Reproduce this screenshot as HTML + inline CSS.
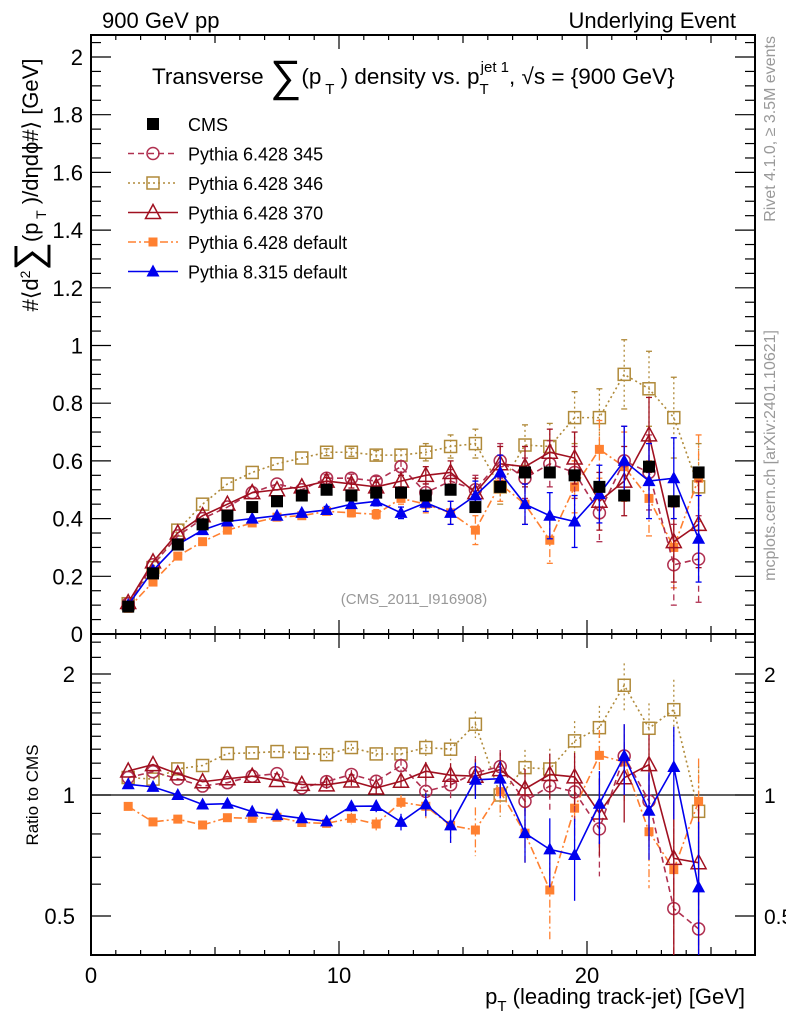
<!DOCTYPE html>
<html><head><meta charset="utf-8"><style>
body{margin:0;background:#fff;width:786px;height:1024px;overflow:hidden}
svg{font-family:"Liberation Sans",sans-serif}
</style></head><body>
<svg id="c" width="786" height="1024"></svg>
<script>
const xs=[1.5,2.5,3.5,4.5,5.5,6.5,7.5,8.5,9.5,10.5,11.5,12.5,13.5,14.5,15.5,16.5,17.5,18.5,19.5,20.5,21.5,22.5,23.5,24.5];
const cms=[0.095,0.21,0.31,0.38,0.41,0.44,0.46,0.48,0.50,0.48,0.49,0.49,0.48,0.50,0.44,0.51,0.56,0.56,0.55,0.51,0.48,0.58,0.46,0.56];
const cmsErr=[0.005,0.005,0.006,0.006,0.007,0.007,0.008,0.008,0.009,0.01,0.01,0.011,0.012,0.013,0.014,0.015,0.016,0.017,0.018,0.019,0.02,0.02,0.02,0.02];
const p345=[0.105,0.24,0.34,0.40,0.44,0.49,0.52,0.50,0.54,0.54,0.53,0.58,0.49,0.53,0.50,0.60,0.54,0.59,0.56,0.42,0.60,0.56,0.24,0.26];
const p346=[0.105,0.23,0.36,0.45,0.52,0.56,0.59,0.61,0.63,0.63,0.62,0.62,0.63,0.65,0.66,0.51,0.655,0.65,0.75,0.75,0.90,0.85,0.75,0.51];
const p370=[0.109,0.25,0.35,0.41,0.45,0.49,0.50,0.51,0.53,0.52,0.51,0.53,0.55,0.56,0.49,0.59,0.58,0.63,0.61,0.46,0.53,0.69,0.32,0.38];
const pdef=[0.089,0.18,0.27,0.32,0.36,0.385,0.405,0.41,0.425,0.42,0.415,0.47,0.45,0.42,0.36,0.52,0.45,0.325,0.51,0.64,0.58,0.47,0.30,0.54];
const p8=[0.101,0.22,0.31,0.36,0.39,0.40,0.41,0.42,0.43,0.45,0.46,0.42,0.455,0.42,0.48,0.56,0.45,0.41,0.39,0.485,0.60,0.53,0.54,0.33];
const mcErr=[0.003,0.004,0.005,0.006,0.007,0.008,0.009,0.01,0.012,0.014,0.016,0.02,0.03,0.04,0.05,0.06,0.07,0.08,0.09,0.1,0.12,0.13,0.14,0.15];
const yTicks=[0,0.2,0.4,0.6,0.8,1,1.2,1.4,1.6,1.8,2];
const xTicks=[0,10,20];
const rTicks=[0.5,1,2];

const S=document.getElementById('c');const NS='http://www.w3.org/2000/svg';
function el(t,a,p){const e=document.createElementNS(NS,t);for(const k in a)e.setAttribute(k,a[k]);(p||S).appendChild(e);return e;}
const X0=91,X1=755,MT=35,MB=634,RB=955;
const xv=v=>X0+v*24.8;
const ym=v=>634-v*288.5;
const yr=v=>795-Math.log2(v)*121;
const clipR=Math.pow(2,(795-RB)/121);

let f=el('rect',{x:X0,y:MT,width:X1-X0,height:MB-MT,fill:'none',stroke:'#000','stroke-width':2});

f=el('rect',{x:X0,y:MB,width:X1-X0,height:RB-MB,fill:'none',stroke:'#000','stroke-width':2});

for(let v=0;v<=2.06;v+=0.05){const y=ym(v);if(y<MT)break;const maj=Math.abs(v/0.2-Math.round(v/0.2))<1e-6;const L=maj?20:10;
el('line',{x1:X0,x2:X0+L,y1:y,y2:y,stroke:'#000','stroke-width':1.2});el('line',{x1:X1,x2:X1-L,y1:y,y2:y,stroke:'#000','stroke-width':1.2});}
yTicks.forEach(v=>{const t=el('text',{x:X0-8,y:ym(v)+8,'text-anchor':'end','font-size':22});t.textContent=String(v);
});
for(let v=0;v<=26;v++){const maj=v%10==0,mid=v%5==0;const L2=maj?14:(mid?8:5);
el('line',{x1:xv(v),x2:xv(v),y1:MB,y2:MB-L2,stroke:'#000','stroke-width':1.2});el('line',{x1:xv(v),x2:xv(v),y1:MT,y2:MT+L2,stroke:'#000','stroke-width':1.2});
el('line',{x1:xv(v),x2:xv(v),y1:RB,y2:RB-L2,stroke:'#000','stroke-width':1.2});el('line',{x1:xv(v),x2:xv(v),y1:MB,y2:MB+L2,stroke:'#000','stroke-width':1.2});}
xTicks.forEach(v=>{const t=el('text',{x:xv(v),y:RB+28,'text-anchor':'middle','font-size':22});t.textContent=v;
});
[0.5,0.6,0.7,0.8,0.9,1,2,1.1,1.2,1.3,1.4,1.5,1.6,1.7,1.8,1.9,2.2,2.4].forEach(v=>{const y=yr(v);if(y<MB)return;const maj=rTicks.includes(v);const L=maj?20:10;
el('line',{x1:X0,x2:X0+L,y1:y,y2:y,stroke:'#000','stroke-width':1.2});el('line',{x1:X1,x2:X1-L,y1:y,y2:y,stroke:'#000','stroke-width':1.2});});
rTicks.forEach(v=>{let t=el('text',{x:X0-16,y:yr(v)+8,'text-anchor':'end','font-size':22});t.textContent=v;

t=el('text',{x:X1+9,y:yr(v)+8,'font-size':21});t.textContent=v;
});
el('line',{x1:X0,x2:X1,y1:yr(1),y2:yr(1),stroke:'#000','stroke-width':1.2});

function marker(g,type,x,y,col){
 if(type=='sq')el('rect',{x:x-6,y:y-6,width:12,height:12,fill:'#000'},g);
 else if(type=='osq')el('rect',{x:x-6,y:y-6,width:12,height:12,fill:'none',stroke:col,'stroke-width':1.5},g);
 else if(type=='fsq')el('rect',{x:x-4.5,y:y-4.5,width:9,height:9,fill:col},g);
 else if(type=='oc')el('circle',{cx:x,cy:y,r:6,fill:'none',stroke:col,'stroke-width':1.5},g);
 else if(type=='ot')el('path',{d:`M${x} ${y-8}L${x+7.5} ${y+6}L${x-7.5} ${y+6}Z`,fill:'none',stroke:col,'stroke-width':1.5},g);
 else if(type=='ft')el('path',{d:`M${x} ${y-7}L${x+6.5} ${y+5}L${x-6.5} ${y+5}Z`,fill:col},g);
}
const series=[
 {name:'pythia-6428-346',d:p346,col:'#b08a3a',dash:'2,3',m:'osq',lab:'Pythia 6.428 346'},
 {name:'pythia-6428-default',d:pdef,col:'#ff8030',dash:'8,3,2,3',m:'fsq',lab:'Pythia 6.428 default'},
 {name:'pythia-6428-345',d:p345,col:'#b03050',dash:'6,4',m:'oc',lab:'Pythia 6.428 345'},
 {name:'pythia-6428-370',d:p370,col:'#a01020',dash:'',m:'ot',lab:'Pythia 6.428 370'},
 {name:'pythia-8315-default',d:p8,col:'#0000ee',dash:'',m:'ft',lab:'Pythia 8.315 default'}];
series.forEach(s=>{
 const g=el('g',{});
 el('path',{d:s.d.map((v,i)=>(i?'L':'M')+xv(xs[i])+' '+ym(v)).join(''),fill:'none',stroke:s.col,'stroke-width':1.6,'stroke-dasharray':s.dash},g);
 const rv=s.d.map((v,i)=>v/cms[i]);
 el('path',{d:rv.map((v,i)=>(i?'L':'M')+xv(xs[i])+' '+yr(Math.max(v,clipR))).join(''),fill:'none',stroke:s.col,'stroke-width':1.6,'stroke-dasharray':s.dash},g);
 s.d.forEach((v,i)=>{const e=mcErr[i];const x=xv(xs[i]);
  if(e>0.01){el('line',{x1:x,x2:x,y1:ym(v+e),y2:ym(v-e),stroke:s.col,'stroke-width':1.3,'stroke-dasharray':s.dash},g);
   el('line',{x1:x-3,x2:x+3,y1:ym(v+e),y2:ym(v+e),stroke:s.col,'stroke-width':1.3},g);el('line',{x1:x-3,x2:x+3,y1:ym(v-e),y2:ym(v-e),stroke:s.col,'stroke-width':1.3},g);
   const r=rv[i],re=e/cms[i];el('line',{x1:x,x2:x,y1:yr(r+re),y2:yr(Math.max(r-re,clipR)),stroke:s.col,'stroke-width':1.3,'stroke-dasharray':s.dash},g);}
  const p=el('g',{},g);
  marker(p,s.m,x,ym(v),s.col);
  if(rv[i]>clipR)marker(p,s.m,x,yr(rv[i]),s.col);
 });
});
const gc=el('g',{});
cms.forEach((v,i)=>{const x=xv(xs[i]);el('line',{x1:x,x2:x,y1:ym(v+cmsErr[i]),y2:ym(v-cmsErr[i]),stroke:'#000'},gc);
 const p=el('g',{},gc);marker(p,'sq',x,ym(v),'#000');});

const order=['pythia-6428-345','pythia-6428-346','pythia-6428-370','pythia-6428-default','pythia-8315-default'];
const leg=[{m:'sq',col:'#000',dash:null,lab:'CMS',n:'cms'}].concat(series.slice().sort((a,b)=>order.indexOf(a.name)-order.indexOf(b.name)).map(s=>({m:s.m,col:s.col,dash:s.dash,lab:s.lab,n:s.name})));
leg.forEach((l,i)=>{const y=124+i*29.5;const g=el('g',{});
 if(l.dash!==null)el('line',{x1:128,x2:178,y1:y,y2:y,stroke:l.col,'stroke-width':1.5,'stroke-dasharray':l.dash},g);
 marker(g,l.m,153,y,l.col);
 const t=el('text',{x:188,y:y+7,'font-size':18},g);t.textContent=l.lab;});

function txt(x,y,s,str,name,extra){const t=el('text',Object.assign({x:x,y:y,'font-size':s},extra||{}));t.textContent=str;
 return t;}
txt(102,28,22,'900 GeV pp','header-left');
txt(736,28,22,'Underlying Event','header-right',{'text-anchor':'end'});
const tt=txt(152,84,22.5,'','plot-title');
tt.innerHTML='Transverse <tspan font-size="44" dy="7">∑</tspan><tspan dy="-7">(p</tspan><tspan font-size="15" dy="10"> T</tspan><tspan dy="-10"> ) density vs. p</tspan><tspan font-size="15" dy="10">T</tspan><tspan font-size="15" dy="-22" dx="-8">jet 1</tspan><tspan dy="12">, √s = {900 GeV}</tspan>';
const yl=txt(0,0,22,'','y-axis-title',{transform:'translate(38,185) rotate(-90)','text-anchor':'middle'});
yl.innerHTML='#⟨d<tspan font-size="14" dy="-8">2</tspan><tspan font-size="40" dy="12">∑</tspan><tspan dy="-4">(p</tspan><tspan font-size="14" dy="8"> T</tspan><tspan dy="-8"> )/dηdϕ#⟩ [GeV]</tspan>';
txt(414,604,15,'(CMS_2011_I916908)','analysis-label',{'text-anchor':'middle',fill:'#999'});
txt(0,0,17,'Ratio to CMS','ratio-axis-title',{transform:'translate(38,795) rotate(-90)','text-anchor':'middle'});
const xl=txt(745,1004,22,'','x-axis-title',{'text-anchor':'end'});
xl.innerHTML='p<tspan font-size="15" dy="7">T</tspan><tspan dy="-7"> (leading track-jet) [GeV]</tspan>';
txt(0,0,16,'Rivet 4.1.0, ≥ 3.5M events','rivet-label',{transform:'translate(775,36) rotate(-90)','text-anchor':'end',fill:'#999'});
txt(0,0,16,'mcplots.cern.ch [arXiv:2401.10621]','mcplots-label',{transform:'translate(775,330) rotate(-90)','text-anchor':'end',fill:'#999'});
</script>
</body></html>
